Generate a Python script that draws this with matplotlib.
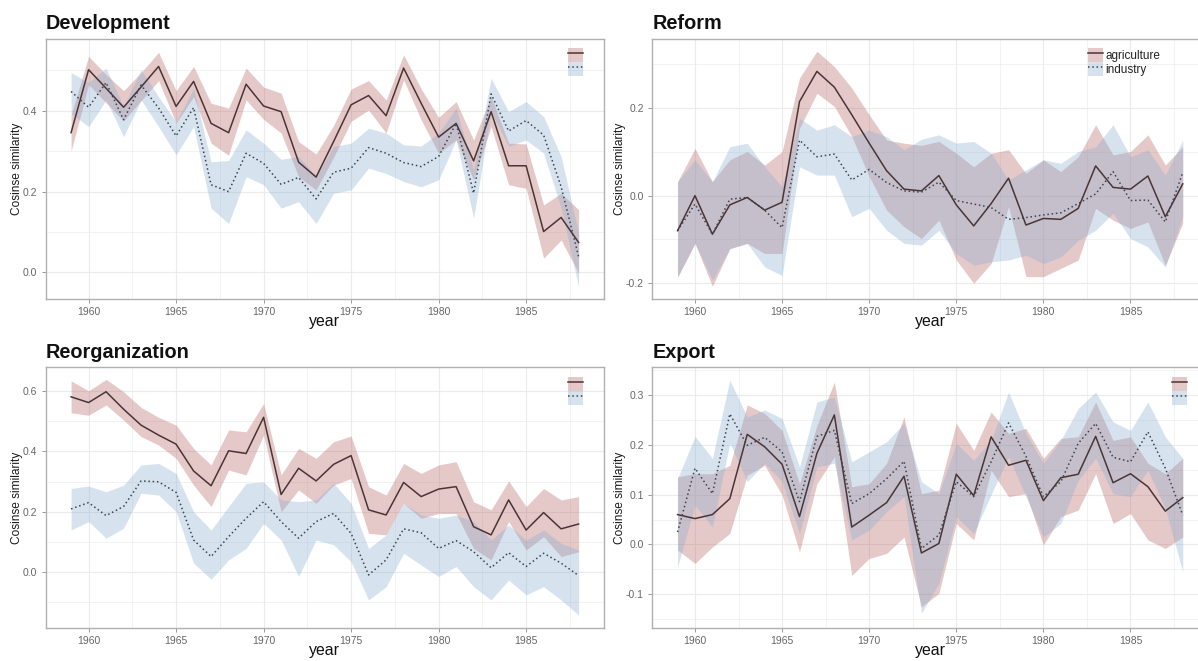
import matplotlib
matplotlib.use("Agg")
import matplotlib.pyplot as plt
from matplotlib.patches import Patch
from matplotlib.lines import Line2D
from matplotlib.ticker import MultipleLocator, FormatStrFormatter, FixedLocator
import numpy as np

plt.rcParams['font.family'] = ['Liberation Sans', 'DejaVu Sans']
plt.rcParams['axes.unicode_minus'] = False

years = list(range(1959, 1989))
series_names = ["agriculture", "industry"]
titles = ["Development", "Reform", "Reorganization", "Export"]

# ---------------- Development ----------------
dev_agri = [0.346, 0.502, 0.456, 0.409, 0.459, 0.510, 0.411, 0.473, 0.369, 0.346,
            0.466, 0.412, 0.398, 0.273, 0.236, 0.324, 0.415, 0.438, 0.388, 0.506,
            0.419, 0.335, 0.369, 0.276, 0.398, 0.264, 0.264, 0.101, 0.136, 0.074]
dev_agri_hi = [0.390, 0.535, 0.490, 0.450, 0.495, 0.545, 0.450, 0.510, 0.419, 0.407,
               0.506, 0.459, 0.444, 0.324, 0.293, 0.364, 0.454, 0.475, 0.427, 0.539,
               0.455, 0.384, 0.423, 0.328, 0.436, 0.320, 0.318, 0.167, 0.196, 0.155]
dev_agri_lo = [0.300, 0.465, 0.420, 0.375, 0.425, 0.475, 0.370, 0.435, 0.320, 0.290,
               0.427, 0.379, 0.345, 0.237, 0.204, 0.285, 0.374, 0.402, 0.345, 0.477,
               0.378, 0.295, 0.328, 0.229, 0.361, 0.217, 0.208, 0.035, 0.080, -0.002]
dev_ind = [0.448, 0.409, 0.470, 0.378, 0.464, 0.407, 0.338, 0.408, 0.217, 0.200,
           0.295, 0.270, 0.218, 0.235, 0.182, 0.248, 0.258, 0.309, 0.295, 0.272,
           0.262, 0.287, 0.369, 0.196, 0.442, 0.350, 0.376, 0.340, 0.212, 0.039]
dev_ind_hi = [0.495, 0.470, 0.506, 0.410, 0.502, 0.435, 0.373, 0.455, 0.274, 0.277,
              0.353, 0.320, 0.280, 0.287, 0.237, 0.312, 0.320, 0.357, 0.345, 0.316,
              0.313, 0.345, 0.407, 0.254, 0.481, 0.398, 0.423, 0.386, 0.287, 0.097]
dev_ind_lo = [0.394, 0.361, 0.427, 0.336, 0.427, 0.361, 0.291, 0.361, 0.159, 0.121,
              0.237, 0.217, 0.159, 0.175, 0.121, 0.196, 0.204, 0.258, 0.245, 0.225,
              0.212, 0.229, 0.328, 0.134, 0.398, 0.312, 0.328, 0.295, 0.159, -0.036]

# ---------------- Reform ----------------
ref_agri = [-0.080, 0.000, -0.088, -0.021, -0.004, -0.033, -0.015, 0.215, 0.284, 0.248,
            0.185, 0.120, 0.057, 0.015, 0.011, 0.046, -0.021, -0.069, -0.018, 0.040,
            -0.067, -0.052, -0.054, -0.029, 0.068, 0.019, 0.015, 0.045, -0.048, 0.027]
ref_agri_hi = [0.032, 0.108, 0.032, 0.082, 0.101, 0.070, 0.101, 0.269, 0.330, 0.295,
               0.246, 0.185, 0.127, 0.120, 0.115, 0.124, 0.097, 0.066, 0.097, 0.105,
               0.051, 0.082, 0.055, 0.089, 0.162, 0.093, 0.101, 0.139, 0.070, 0.112]
ref_agri_lo = [-0.186, -0.109, -0.207, -0.121, -0.109, -0.132, -0.132, 0.154, 0.234, 0.204,
               0.135, 0.044, -0.033, -0.071, -0.098, -0.056, -0.147, -0.200, -0.155, -0.025,
               -0.185, -0.185, -0.166, -0.147, -0.029, -0.056, -0.075, -0.060, -0.159, -0.063]
ref_ind = [-0.080, -0.019, -0.088, -0.008, -0.004, -0.033, -0.073, 0.127, 0.089, 0.095,
           0.036, 0.060, 0.030, 0.011, 0.008, 0.031, -0.011, -0.019, -0.027, -0.054,
           -0.050, -0.044, -0.039, -0.018, 0.004, 0.055, -0.011, -0.010, -0.060, 0.053]
ref_ind_hi = [0.032, 0.082, 0.032, 0.112, 0.120, 0.066, 0.021, 0.177, 0.150, 0.162,
              0.135, 0.150, 0.135, 0.105, 0.129, 0.139, 0.120, 0.124, 0.097, 0.036,
              0.059, 0.082, 0.074, 0.101, 0.112, 0.162, 0.089, 0.105, 0.047, 0.127]
ref_ind_lo = [-0.186, -0.109, -0.193, -0.121, -0.109, -0.163, -0.182, 0.066, 0.047, 0.047,
              -0.048, -0.029, -0.079, -0.109, -0.113, -0.079, -0.132, -0.159, -0.151, -0.147,
              -0.136, -0.155, -0.140, -0.102, -0.079, -0.040, -0.098, -0.117, -0.163, -0.048]

# ---------------- Reorganization ----------------
reo_agri = [0.581, 0.562, 0.598, 0.540, 0.487, 0.454, 0.424, 0.335, 0.286, 0.402,
            0.393, 0.513, 0.257, 0.344, 0.302, 0.357, 0.386, 0.206, 0.189, 0.297,
            0.250, 0.275, 0.283, 0.150, 0.123, 0.239, 0.139, 0.197, 0.143, 0.159]
reo_agri_hi = [0.634, 0.601, 0.639, 0.598, 0.546, 0.513, 0.487, 0.410, 0.355, 0.471,
               0.465, 0.559, 0.322, 0.410, 0.377, 0.432, 0.451, 0.283, 0.255, 0.360,
               0.327, 0.355, 0.366, 0.233, 0.206, 0.302, 0.217, 0.277, 0.239, 0.250]
reo_agri_lo = [0.528, 0.520, 0.554, 0.504, 0.449, 0.421, 0.377, 0.288, 0.217, 0.338,
               0.322, 0.454, 0.200, 0.272, 0.228, 0.288, 0.310, 0.128, 0.123, 0.228,
               0.178, 0.194, 0.194, 0.078, 0.040, 0.167, 0.073, 0.117, 0.051, 0.067]
reo_ind = [0.209, 0.230, 0.187, 0.217, 0.302, 0.299, 0.264, 0.106, 0.051, 0.117,
           0.178, 0.233, 0.167, 0.112, 0.167, 0.194, 0.128, -0.010, 0.040, 0.143,
           0.130, 0.078, 0.104, 0.067, 0.014, 0.064, 0.018, 0.062, 0.029, -0.012]
reo_ind_hi = [0.277, 0.285, 0.266, 0.288, 0.355, 0.360, 0.327, 0.200, 0.139, 0.217,
              0.294, 0.299, 0.239, 0.233, 0.239, 0.294, 0.228, 0.078, 0.123, 0.228,
              0.189, 0.178, 0.189, 0.167, 0.106, 0.156, 0.106, 0.139, 0.095, 0.073]
reo_ind_lo = [0.139, 0.167, 0.112, 0.145, 0.261, 0.255, 0.200, 0.029, -0.024, 0.040,
              0.078, 0.161, 0.106, -0.015, 0.106, 0.090, 0.034, -0.093, -0.049, 0.062,
              0.023, -0.015, 0.018, -0.049, -0.093, -0.027, -0.076, -0.049, -0.093, -0.143]

# ---------------- Export ----------------
exp_agri = [0.060, 0.052, 0.060, 0.092, 0.221, 0.196, 0.161, 0.056, 0.183, 0.260,
            0.035, 0.059, 0.084, 0.137, -0.017, 0.002, 0.141, 0.098, 0.216, 0.159,
            0.169, 0.088, 0.134, 0.141, 0.217, 0.124, 0.142, 0.116, 0.067, 0.094]
exp_agri_hi = [0.136, 0.142, 0.142, 0.159, 0.280, 0.263, 0.229, 0.122, 0.239, 0.326,
               0.116, 0.122, 0.163, 0.256, 0.102, 0.109, 0.243, 0.189, 0.266, 0.223,
               0.233, 0.173, 0.213, 0.216, 0.286, 0.209, 0.216, 0.163, 0.142, 0.173]
exp_agri_lo = [-0.011, -0.038, -0.005, 0.022, 0.139, 0.159, 0.099, -0.015, 0.122, 0.176,
               -0.062, -0.028, -0.018, 0.015, -0.125, -0.098, 0.042, 0.009, 0.149, 0.096,
               0.102, -0.001, 0.056, 0.069, 0.142, 0.042, 0.062, 0.009, -0.008, 0.015]
exp_ind = [0.025, 0.153, 0.102, 0.262, 0.199, 0.215, 0.186, 0.086, 0.217, 0.229,
           0.082, 0.102, 0.132, 0.167, -0.008, 0.019, 0.126, 0.096, 0.166, 0.244,
           0.177, 0.096, 0.126, 0.203, 0.243, 0.175, 0.166, 0.226, 0.153, 0.059]
exp_ind_hi = [0.132, 0.217, 0.173, 0.330, 0.256, 0.270, 0.253, 0.156, 0.286, 0.296,
              0.166, 0.186, 0.206, 0.243, 0.126, 0.102, 0.203, 0.169, 0.209, 0.306,
              0.223, 0.163, 0.209, 0.273, 0.306, 0.246, 0.229, 0.286, 0.216, 0.173]
exp_ind_lo = [-0.045, 0.079, 0.035, 0.203, 0.126, 0.163, 0.126, 0.022, 0.156, 0.163,
              0.009, 0.029, 0.066, 0.096, -0.138, -0.078, 0.056, 0.022, 0.100, 0.176,
              0.096, 0.015, 0.042, 0.129, 0.173, 0.102, 0.096, 0.149, 0.072, -0.055]

panel_data = [
    (dev_agri, dev_agri_lo, dev_agri_hi, dev_ind, dev_ind_lo, dev_ind_hi),
    (ref_agri, ref_agri_lo, ref_agri_hi, ref_ind, ref_ind_lo, ref_ind_hi),
    (reo_agri, reo_agri_lo, reo_agri_hi, reo_ind, reo_ind_lo, reo_ind_hi),
    (exp_agri, exp_agri_lo, exp_agri_hi, exp_ind, exp_ind_lo, exp_ind_hi),
]
ylims = [(-0.066, 0.578), (-0.236, 0.358), (-0.185, 0.679), (-0.167, 0.3556)]
ymajor = [0.2, 0.2, 0.2, 0.1]
show_labels = [False, True, False, False]

# ---------------- styling ----------------
W, H = 1198, 661
agri_fill = '#b86b6b'
ind_fill = '#80aad0'
agri_alpha = 0.36
ind_alpha = 0.32
agri_line = '#4a3535'
ind_line = '#3c4550'
grid_col = '#ebebeb'
border_col = '#b0b0b0'
tick_col = '#666666'

# pixel boxes: (left, top, right, bottom)
boxes = [(45.7, 39, 604.0, 299), (652.3, 39, 1208.0, 299),
         (45.7, 367.3, 604.0, 627.7), (652.3, 367.3, 1208.0, 627.7)]
ylabel_x = [17.5, 620.5, 17.5, 620.5]
legend_pos = [(568, 48), (1088, 48), (568, 376.7), (1172, 376.7)]

fig = plt.figure(figsize=(W / 100, H / 100), dpi=100)

for i, (box, dat) in enumerate(zip(boxes, panel_data)):
    l, t, r, b = box
    ax = fig.add_axes([l / W, 1 - b / H, (r - l) / W, (b - t) / H])
    a, alo, ahi, d, dlo, dhi = dat
    ax.fill_between(years, alo, ahi, color=agri_fill, alpha=agri_alpha, lw=0, zorder=2)
    ax.fill_between(years, dlo, dhi, color=ind_fill, alpha=ind_alpha, lw=0, zorder=2)
    ax.plot(years, a, color=agri_line, lw=1.1, ls='-', zorder=3)
    ax.plot(years, d, color=ind_line, lw=1.1, ls=(0, (1, 1.8)), zorder=3)

    ax.set_xlim(1957.55, 1989.45)
    ax.set_ylim(*ylims[i])
    ax.xaxis.set_major_locator(FixedLocator([1960, 1965, 1970, 1975, 1980, 1985]))
    ax.xaxis.set_minor_locator(MultipleLocator(2.5))
    ax.yaxis.set_major_locator(MultipleLocator(ymajor[i]))
    ax.yaxis.set_minor_locator(MultipleLocator(ymajor[i] / 2))
    ax.yaxis.set_major_formatter(FormatStrFormatter('%.1f'))
    ax.grid(which='major', color=grid_col, lw=0.8, zorder=0)
    ax.grid(which='minor', color=grid_col, lw=0.45, zorder=0)
    ax.set_axisbelow(True)
    ax.tick_params(which='major', length=3, width=0.6, color='#888888',
                   labelsize=7.5, labelcolor=tick_col, pad=3)
    ax.tick_params(which='minor', length=0)
    for s in ax.spines.values():
        s.set_color(border_col)
        s.set_linewidth(1.0)
    ax.set_ylabel('Cosinse similarity', fontsize=8.6, color='#1a1a1a', va='center')
    ax.yaxis.set_label_coords((ylabel_x[i] - l) / (r - l), 0.5)

    # x-axis title
    cx = (l + r) / 2
    fig.text(cx / W, 1 - (b + 27.5) / H, 'year', fontsize=11.4, color='#111111',
             ha='center', va='baseline')
    # panel title
    fig.text(l / W, 1 - (t - 9.7) / H, titles[i], fontsize=14.3, fontweight='bold',
             color='#111111', ha='left', va='baseline')

    handles = [(Patch(facecolor=agri_fill, alpha=agri_alpha, lw=0),
                Line2D([], [], color=agri_line, lw=1.1, ls='-')),
               (Patch(facecolor=ind_fill, alpha=ind_alpha, lw=0),
                Line2D([], [], color=ind_line, lw=1.1, ls=(0, (1, 1.8))))]
    labels = series_names if show_labels[i] else ['', '']
    kx, ky = legend_pos[i]
    ax.legend(handles, labels, loc='upper left',
              bbox_to_anchor=((kx - l) / (r - l), (b - ky) / (b - t)),
              frameon=False, borderpad=0, borderaxespad=0, fontsize=8.5,
              handlelength=1.3, handleheight=1.45, labelspacing=0.0,
              handletextpad=0.15, labelcolor='#222222')

fig.savefig('out.png', dpi=100)
